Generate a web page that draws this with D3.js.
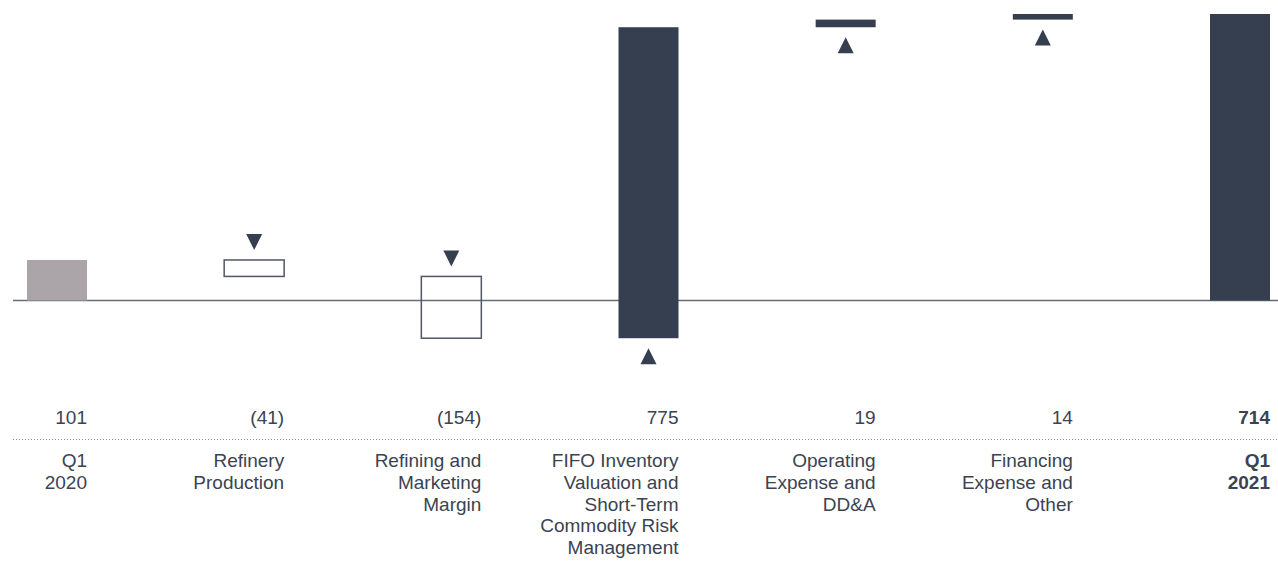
<!DOCTYPE html>
<html>
<head>
<meta charset="utf-8">
<script src="https://cdn.jsdelivr.net/npm/d3@7"></script>
<style>
  body { margin: 0; background: #fff; }
  svg text { font-family: "Liberation Sans", Arial, sans-serif; fill: #3b4351; }
</style>
</head>
<body>
<div class="chart"></div>
<script>
// data
var categories = ["Q1 2020", "Refinery Production", "Refining and Marketing Margin",
    "FIFO Inventory Valuation and Short-Term Commodity Risk Management",
    "Operating Expense and DD&A", "Financing Expense and Other", "Q1 2021"];
var labelLines = [["Q1", "2020"], ["Refinery", "Production"], ["Refining and", "Marketing", "Margin"],
    ["FIFO Inventory", "Valuation and", "Short-Term", "Commodity Risk", "Management"],
    ["Operating", "Expense and", "DD&A"], ["Financing", "Expense and", "Other"], ["Q1", "2021"]];
var values = [101, -41, -154, 775, 19, 14, 714];
var valueLabels = ["101", "(41)", "(154)", "775", "19", "14", "714"];
var kinds = ["start", "step", "step", "step", "step", "step", "end"];

var width = 1278, height = 563;
var barW = 60;

var svg = d3.select(".chart").append("svg")
    .attr("width", width)
    .attr("height", height);

// scales
var x = d3.scalePoint().domain(categories).range([57, 1240]);
var y = d3.scaleLinear().domain([0, 714]).range([300.5, 14]);

// running totals
var run = 0;
var bars = values.map(function(v, i) {
    var d = {cat: categories[i], value: v, kind: kinds[i], label: valueLabels[i], lines: labelLines[i]};
    if (kinds[i] === "step") {
        d.y0 = run; d.y1 = run + v; run += v;
    } else {
        d.y0 = 0; d.y1 = v; run = v;
    }
    return d;
});

var dark = "#353f4f";

// baseline
svg.append("line")
    .attr("x1", 13).attr("x2", width)
    .attr("y1", y(0)).attr("y2", y(0))
    .attr("stroke", "#666d79")
    .attr("stroke-width", 1.5);

// bars
svg.selectAll("rect.bar")
    .data(bars)
    .enter().append("rect")
    .attr("class", "bar")
    .attr("x", function(d) { return x(d.cat) - barW / 2; })
    .attr("width", barW)
    .attr("y", function(d) { return y(Math.max(d.y0, d.y1)); })
    .attr("height", function(d) { return Math.abs(y(d.y0) - y(d.y1)); })
    .attr("fill", function(d) {
        if (d.kind === "start") return "#aba5aa";
        if (d.kind === "step" && d.value < 0) return "none";
        return dark;
    })
    .attr("stroke", function(d) { return (d.kind === "step" && d.value < 0) ? "#4f5767" : "none"; })
    .attr("stroke-width", 1.5);

// arrows
var tri = d3.line();
svg.selectAll("path.arrow")
    .data(bars.filter(function(d) { return d.kind === "step"; }))
    .enter().append("path")
    .attr("class", "arrow")
    .attr("fill", dark)
    .attr("d", function(d) {
        var cx = x(d.cat);
        if (d.value < 0) {
            var top = y(Math.max(d.y0, d.y1));
            return tri([[cx - 8, top - 26], [cx + 8, top - 26], [cx, top - 10]]) + "Z";
        }
        var bot = y(Math.min(d.y0, d.y1));
        return tri([[cx - 8, bot + 26], [cx + 8, bot + 26], [cx, bot + 10]]) + "Z";
    });

// value labels
svg.selectAll("text.val")
    .data(bars)
    .enter().append("text")
    .attr("class", "val")
    .attr("x", function(d) { return x(d.cat) + barW / 2; })
    .attr("y", 424)
    .attr("text-anchor", "end")
    .style("font-size", "19px")
    .style("font-weight", function(d) { return d.kind === "end" ? "bold" : "normal"; })
    .text(function(d) { return d.label; });

// dotted separator
svg.append("line")
    .attr("x1", 13).attr("x2", width)
    .attr("y1", 439.5).attr("y2", 439.5)
    .attr("stroke", "#8a8f98")
    .attr("stroke-width", 1)
    .attr("stroke-dasharray", "1,2");

// category labels
var cat = svg.selectAll("g.cat")
    .data(bars)
    .enter().append("g")
    .attr("class", "cat")
    .attr("transform", function(d) { return "translate(" + (x(d.cat) + barW / 2) + ",467)"; });

cat.selectAll("text")
    .data(function(d) { return d.lines.map(function(l) { return {t: l, bold: d.kind === "end"}; }); })
    .enter().append("text")
    .attr("y", function(d, i) { return i * 21.8; })
    .attr("text-anchor", "end")
    .style("font-size", "19px")
    .style("font-weight", function(d) { return d.bold ? "bold" : "normal"; })
    .text(function(d) { return d.t; });
</script>
</body>
</html>
